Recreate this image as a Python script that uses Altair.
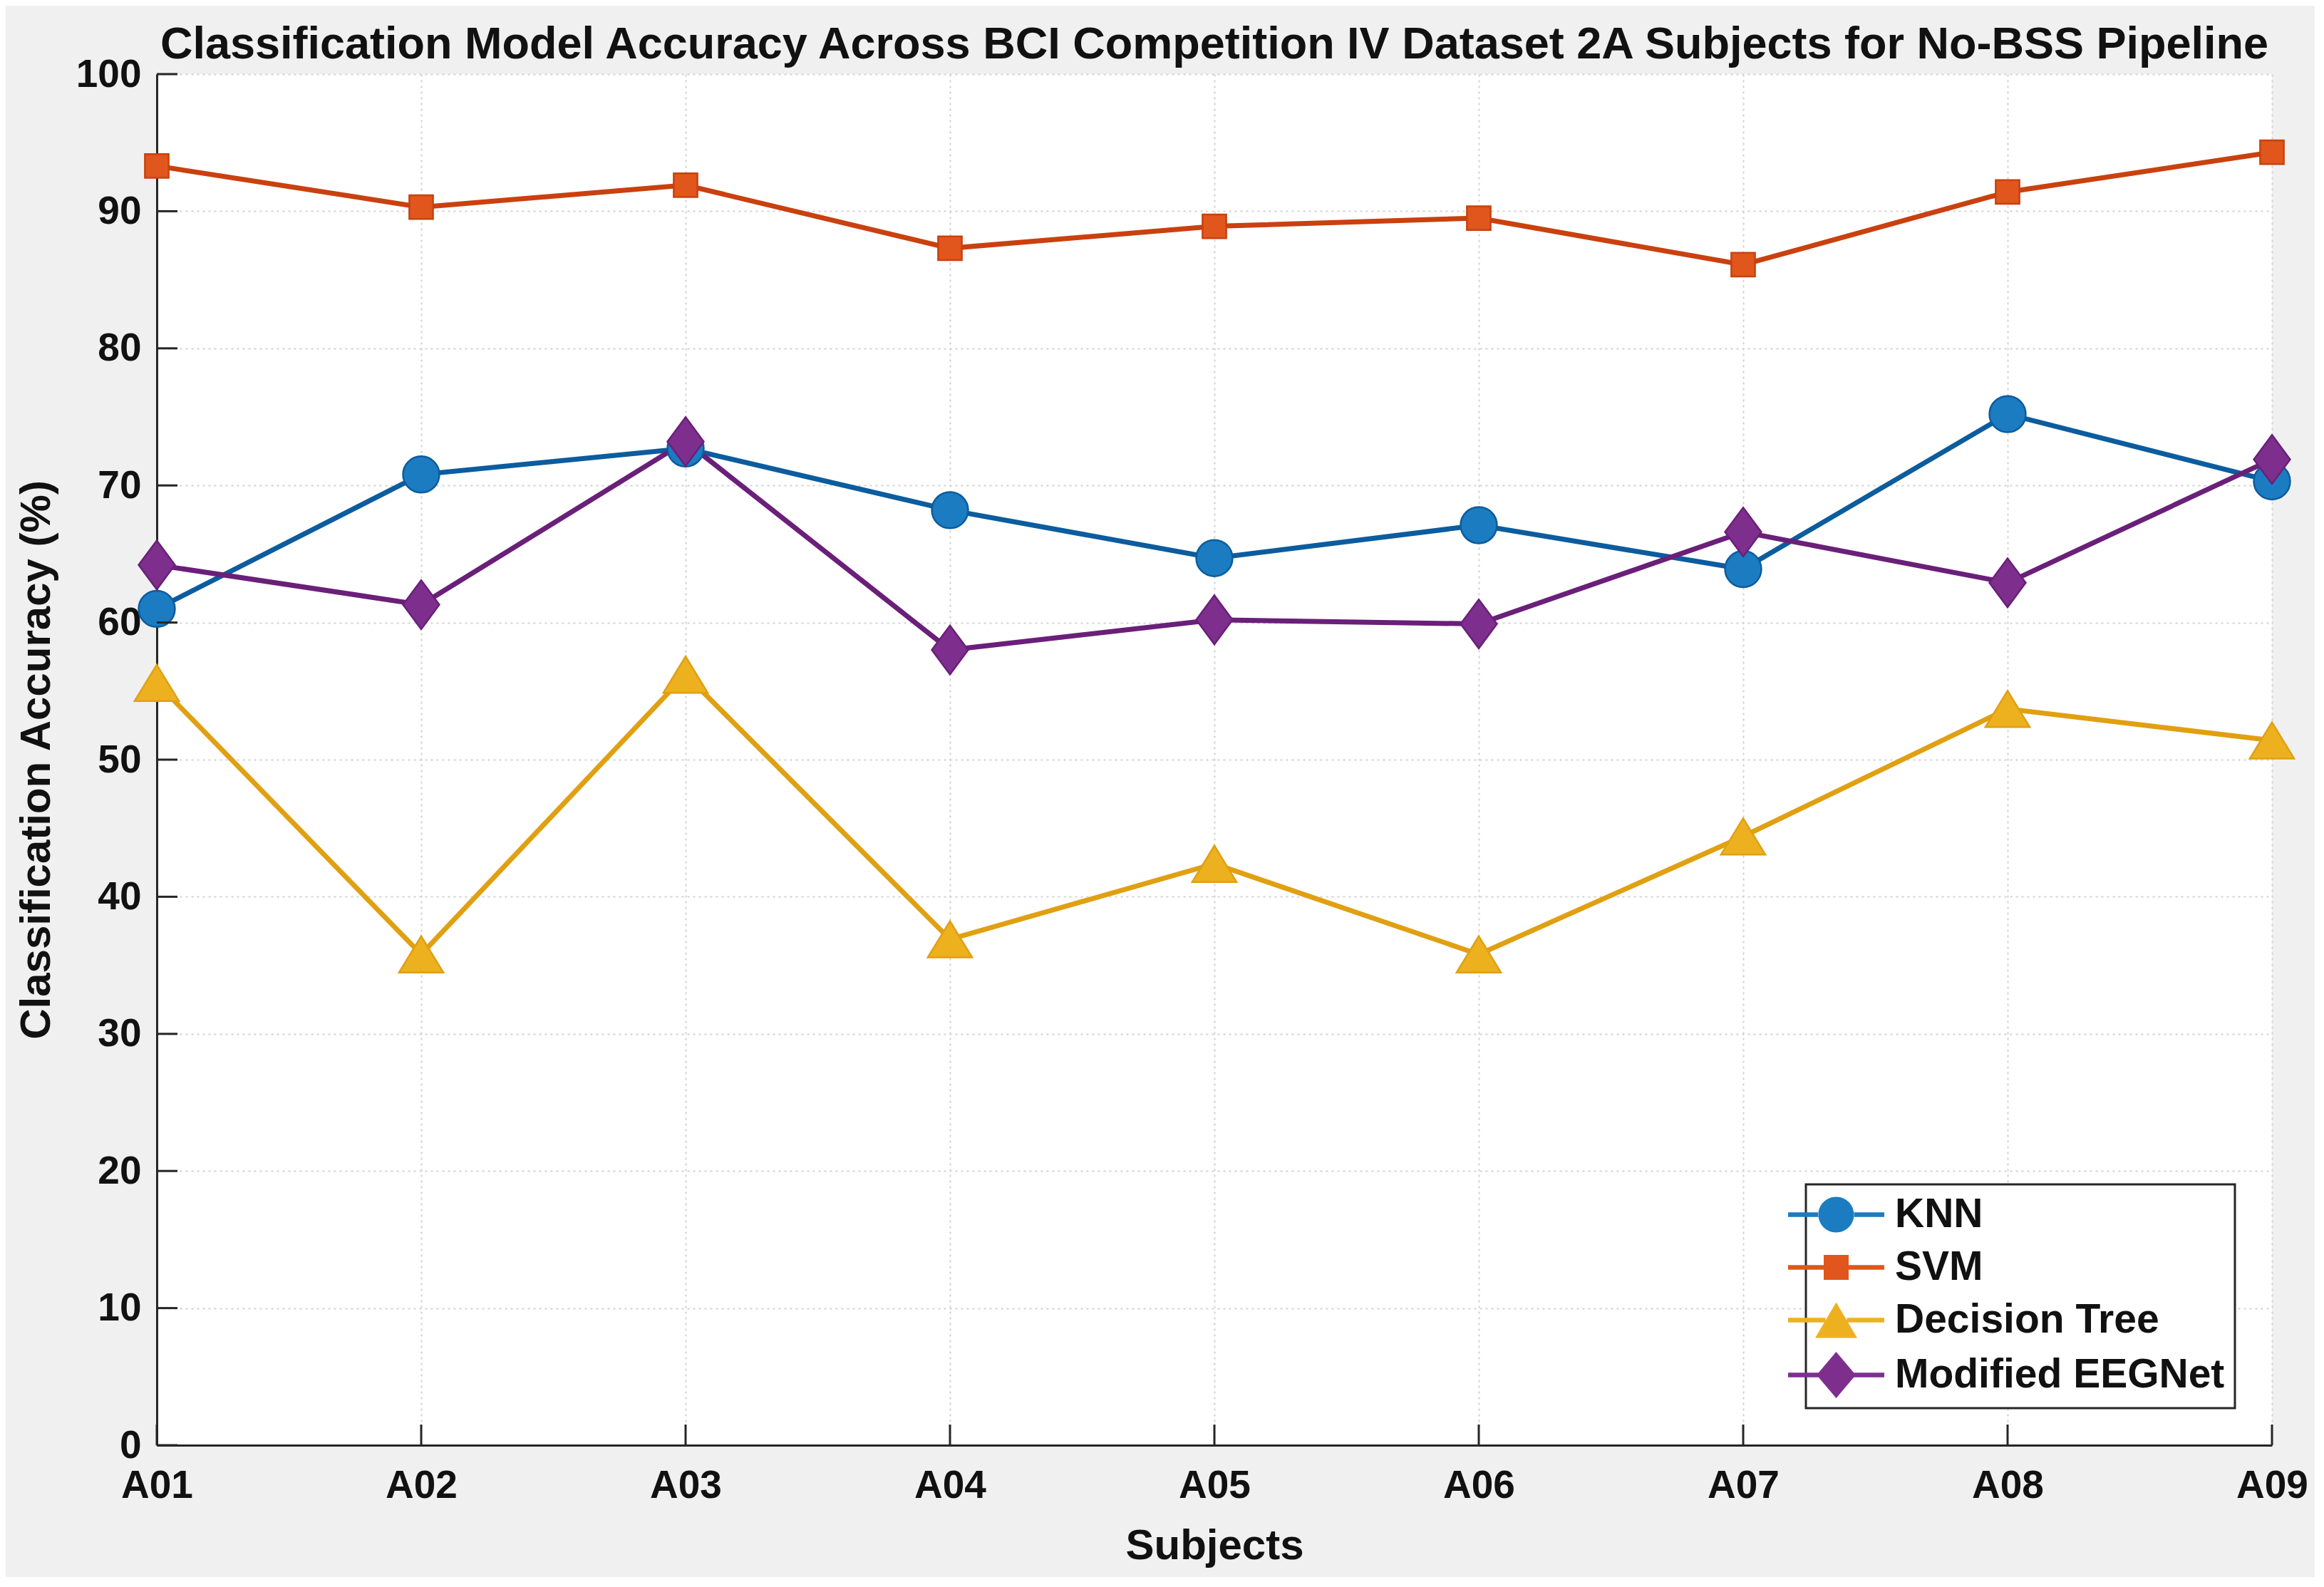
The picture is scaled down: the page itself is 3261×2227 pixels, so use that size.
import altair as alt
import pandas as pd

subjects = ["A01", "A02", "A03", "A04", "A05", "A06", "A07", "A08", "A09"]
models = ["KNN", "SVM", "Decision Tree", "Modified EEGNet"]
knn = [61.0, 70.8, 72.7, 68.2, 64.7, 67.1, 63.9, 75.2, 70.3]
svm = [93.3, 90.3, 91.9, 87.3, 88.9, 89.5, 86.1, 91.4, 94.3]
dtree = [55.6, 35.8, 56.2, 36.9, 42.4, 35.8, 44.4, 53.7, 51.4]
eegnet = [64.2, 61.3, 73.2, 58.0, 60.2, 59.9, 66.6, 62.9, 71.9]
y_ticks = [0, 10, 20, 30, 40, 50, 60, 70, 80, 90, 100]

line_colors = ["#0c5c9e", "#c9410f", "#e0a012", "#6a1f79"]
marker_colors = ["#1b7cc1", "#e0561c", "#edb120", "#7e2f8e"]

# marker shapes (plot): unit = sqrt(size)/2
marker_paths = [
    "M-0.72,0A0.72,0.72 0 1,0 0.72,0A0.72,0.72 0 1,0 -0.72,0Z",
    "M-0.47,-0.47H0.47V0.47H-0.47Z",
    "M0,-0.72L0.88,0.72L-0.88,0.72Z",
    "M0,-0.97L0.72,0L0,0.97L-0.72,0Z",
]
# legend symbols: marker with line stubs
stub = "M-2.7,-0.13H-{a}V0.13H-2.7Z M{a},-0.13H2.7V0.13H{a}Z "
legend_paths = [
    stub.format(a=0.98) + "M-1,0A1,1 0 1,0 1,0A1,1 0 1,0 -1,0Z",
    stub.format(a=0.7) + "M-0.7,-0.7H0.7V0.7H-0.7Z",
    stub.format(a=0.6) + "M0,-1L1.18,1L-1.18,1Z",
    stub.format(a=1.0) + "M0,-1.3L1.1,0L0,1.3L-1.1,0Z",
]

rows = []
for m, vals in zip(models, [knn, svm, dtree, eegnet]):
    for s, v in zip(subjects, vals):
        rows.append({"subject": s, "model": m, "acc": v})
df = pd.DataFrame(rows)

W, H = 2968, 1924
FONT = "Liberation Sans"
AX = "#262626"

x_scale = alt.Scale(type="point", domain=subjects, padding=0)
y_scale = alt.Scale(domain=[0, 100], nice=False)

x_enc = alt.X(
    "subject:N", sort=subjects, scale=x_scale,
    axis=alt.Axis(title="Subjects", labelAngle=0, grid=True, ticks=False,
                  labelPadding=30, titlePadding=28),
)
y_enc = alt.Y(
    "acc:Q", scale=y_scale,
    axis=alt.Axis(title="Classification Accuracy (%)", values=y_ticks, grid=True,
                  ticks=False, labelPadding=22, titlePadding=24),
)

base = alt.Chart(df)

lines = base.mark_line(strokeWidth=7).encode(
    x=x_enc, y=y_enc,
    stroke=alt.Stroke("model:N", scale=alt.Scale(domain=models, range=line_colors), legend=None),
    detail="model:N",
)

points = base.mark_point(filled=True, opacity=1, strokeWidth=2.5, size=5000).encode(
    x=x_enc, y=y_enc,
    fill=alt.Fill("model:N", scale=alt.Scale(domain=models, range=marker_colors), legend=None),
    stroke=alt.Stroke("model:N", scale=alt.Scale(domain=models, range=line_colors), legend=None),
    shape=alt.Shape("model:N", scale=alt.Scale(domain=models, range=marker_paths), legend=None),
    order=alt.Order("ord:Q"),
).transform_calculate(ord="indexof(['KNN','SVM','Decision Tree','Modified EEGNet'], datum.model)")

leg = alt.Legend(
    title=None, orient="bottom-right", offset=52, padding=14,
    strokeColor=AX, fillColor="white", cornerRadius=0,
    labelFont=FONT, labelFontSize=57, labelFontWeight="bold", labelColor="#111111",
    symbolSize=2500, symbolStrokeWidth=0, symbolOpacity=1,
    labelOffset=54, rowPadding=16, labelLimit=1000,
)
legend_layer = base.mark_point(filled=True, size=2500).encode(
    x=x_enc, y=y_enc,
    color=alt.Color("model:N", scale=alt.Scale(domain=models, range=marker_colors), legend=leg),
    shape=alt.Shape("model:N", scale=alt.Scale(domain=models, range=legend_paths), legend=leg),
).transform_filter("datum.acc < -1")

ytick_layer = alt.Chart(pd.DataFrame({"acc": y_ticks})).mark_rule(color=AX, strokeWidth=3).encode(
    y=y_enc,
    x=alt.value(0), x2=alt.value(29),
)
xtick_layer = alt.Chart(pd.DataFrame({"subject": subjects})).mark_rule(color=AX, strokeWidth=3).encode(
    x=x_enc,
    y=alt.value(H), y2=alt.value(H - 29),
)

chart = alt.layer(
    lines, points, legend_layer, ytick_layer, xtick_layer,
).resolve_scale(
    shape="independent", color="independent"
).properties(
    width=W, height=H,
    title=alt.Title(
        "Classification Model Accuracy Across BCI Competition IV Dataset 2A Subjects for No-BSS Pipeline",
        fontSize=63, font=FONT, fontWeight="bold", color="#111111", anchor="middle",
        offset=0, dy=18,
    ),
    autosize=alt.AutoSizeParams(type="none"),
    padding={"left": 212, "top": 96, "right": 60, "bottom": 185},
    background="#f0f0f0",
).configure_view(
    fill="white", strokeWidth=0,
).configure_legend(
    strokeWidth=3,
).configure_axis(
    labelFont=FONT, labelFontSize=55, labelFontWeight="bold", labelColor="#111111",
    titleFont=FONT, titleFontSize=60, titleFontWeight="bold", titleColor="#111111",
    domainColor=AX, domainWidth=3,
    gridColor="#d2d2d2", gridDash=[3, 5], gridWidth=2,
)

chart.save("out.html", embed_options={"renderer": "svg", "actions": False})
